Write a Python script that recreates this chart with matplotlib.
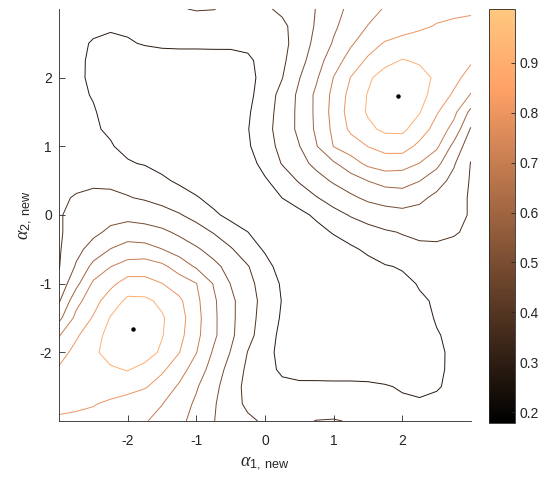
import numpy as np
import matplotlib
matplotlib.use("Agg")
import matplotlib.pyplot as plt
from matplotlib.colors import Normalize
from matplotlib.cm import ScalarMappable

# ---- data -------------------------------------------------------------
alpha1 = [-3.0, -2.75, -2.5, -2.25, -2.0, -1.75, -1.5, -1.25, -1.0, -0.75, -0.5, -0.25,
          0.0, 0.25, 0.5, 0.75, 1.0, 1.25, 1.5, 1.75, 2.0, 2.25, 2.5, 2.75, 3.0]
alpha2 = [3.0, 2.75, 2.5, 2.25, 2.0, 1.75, 1.5, 1.25, 1.0, 0.75, 0.5, 0.25,
          0.0, -0.25, -0.5, -0.75, -1.0, -1.25, -1.5, -1.75, -2.0, -2.25, -2.5, -2.75, -3.0]

# one row per alpha2 value (top to bottom), one column per alpha1 value
z_rows = [
    [0.320, 0.315, 0.310, 0.315, 0.325, 0.340, 0.355, 0.380, 0.390, 0.387, 0.372, 0.365, 0.370, 0.405, 0.448, 0.492, 0.559, 0.617, 0.663, 0.705, 0.730, 0.750, 0.765, 0.775, 0.785],
    [0.310, 0.300, 0.290, 0.290, 0.300, 0.315, 0.330, 0.340, 0.345, 0.345, 0.340, 0.340, 0.350, 0.363, 0.431, 0.500, 0.577, 0.640, 0.700, 0.725, 0.752, 0.780, 0.807, 0.820, 0.825],
    [0.300, 0.290, 0.279, 0.268, 0.272, 0.290, 0.305, 0.310, 0.310, 0.310, 0.305, 0.305, 0.320, 0.355, 0.433, 0.518, 0.603, 0.684, 0.753, 0.810, 0.840, 0.855, 0.865, 0.862, 0.855],
    [0.300, 0.290, 0.275, 0.250, 0.235, 0.230, 0.225, 0.225, 0.225, 0.230, 0.240, 0.265, 0.316, 0.366, 0.450, 0.550, 0.649, 0.740, 0.817, 0.870, 0.910, 0.890, 0.875, 0.845, 0.812],
    [0.305, 0.300, 0.265, 0.240, 0.220, 0.205, 0.200, 0.195, 0.195, 0.200, 0.215, 0.250, 0.318, 0.382, 0.485, 0.581, 0.700, 0.803, 0.885, 0.955, 0.985, 0.945, 0.884, 0.830, 0.760],
    [0.305, 0.295, 0.278, 0.250, 0.225, 0.205, 0.195, 0.188, 0.185, 0.190, 0.205, 0.255, 0.334, 0.415, 0.510, 0.614, 0.723, 0.832, 0.910, 0.975, 1.000, 0.940, 0.861, 0.786, 0.690],
    [0.310, 0.300, 0.287, 0.260, 0.230, 0.210, 0.195, 0.185, 0.180, 0.180, 0.190, 0.270, 0.344, 0.423, 0.513, 0.614, 0.731, 0.843, 0.915, 0.970, 0.985, 0.910, 0.809, 0.725, 0.565],
    [0.305, 0.300, 0.290, 0.272, 0.245, 0.220, 0.200, 0.190, 0.180, 0.180, 0.195, 0.278, 0.352, 0.427, 0.512, 0.610, 0.720, 0.820, 0.882, 0.925, 0.925, 0.852, 0.762, 0.663, 0.478],
    [0.300, 0.303, 0.300, 0.288, 0.260, 0.235, 0.215, 0.200, 0.190, 0.185, 0.195, 0.270, 0.341, 0.414, 0.486, 0.588, 0.700, 0.750, 0.802, 0.835, 0.845, 0.775, 0.715, 0.564, 0.420],
    [0.320, 0.325, 0.320, 0.300, 0.290, 0.275, 0.250, 0.230, 0.210, 0.195, 0.190, 0.240, 0.318, 0.390, 0.453, 0.517, 0.580, 0.652, 0.720, 0.750, 0.735, 0.695, 0.622, 0.500, 0.380],
    [0.345, 0.355, 0.365, 0.365, 0.355, 0.340, 0.300, 0.265, 0.235, 0.210, 0.195, 0.210, 0.270, 0.333, 0.394, 0.450, 0.503, 0.548, 0.595, 0.630, 0.640, 0.596, 0.530, 0.459, 0.375],
    [0.365, 0.395, 0.410, 0.405, 0.390, 0.375, 0.355, 0.330, 0.290, 0.250, 0.215, 0.195, 0.220, 0.283, 0.330, 0.380, 0.424, 0.470, 0.510, 0.530, 0.535, 0.510, 0.466, 0.420, 0.375],
    [0.375, 0.420, 0.440, 0.455, 0.460, 0.445, 0.420, 0.392, 0.355, 0.300, 0.255, 0.210, 0.190, 0.210, 0.255, 0.300, 0.355, 0.392, 0.420, 0.445, 0.460, 0.455, 0.440, 0.420, 0.375],
    [0.375, 0.420, 0.466, 0.510, 0.535, 0.530, 0.510, 0.470, 0.424, 0.380, 0.330, 0.283, 0.220, 0.195, 0.215, 0.250, 0.290, 0.330, 0.355, 0.375, 0.390, 0.405, 0.410, 0.395, 0.365],
    [0.375, 0.459, 0.530, 0.596, 0.640, 0.630, 0.595, 0.548, 0.503, 0.450, 0.394, 0.333, 0.270, 0.210, 0.195, 0.210, 0.235, 0.265, 0.300, 0.340, 0.355, 0.365, 0.365, 0.355, 0.345],
    [0.380, 0.500, 0.622, 0.695, 0.735, 0.750, 0.720, 0.652, 0.580, 0.517, 0.453, 0.390, 0.318, 0.240, 0.190, 0.195, 0.210, 0.230, 0.250, 0.275, 0.290, 0.300, 0.320, 0.325, 0.320],
    [0.420, 0.564, 0.715, 0.775, 0.845, 0.835, 0.802, 0.750, 0.700, 0.588, 0.486, 0.414, 0.341, 0.270, 0.195, 0.185, 0.190, 0.200, 0.215, 0.235, 0.260, 0.288, 0.300, 0.303, 0.300],
    [0.478, 0.663, 0.762, 0.852, 0.925, 0.925, 0.882, 0.820, 0.720, 0.610, 0.512, 0.427, 0.352, 0.278, 0.195, 0.180, 0.180, 0.190, 0.200, 0.220, 0.245, 0.272, 0.290, 0.300, 0.305],
    [0.565, 0.725, 0.809, 0.910, 0.985, 0.970, 0.915, 0.843, 0.731, 0.614, 0.513, 0.423, 0.344, 0.270, 0.190, 0.180, 0.180, 0.185, 0.195, 0.210, 0.230, 0.260, 0.287, 0.300, 0.310],
    [0.690, 0.786, 0.861, 0.940, 1.000, 0.975, 0.910, 0.832, 0.723, 0.614, 0.510, 0.415, 0.334, 0.255, 0.205, 0.190, 0.185, 0.188, 0.195, 0.205, 0.225, 0.250, 0.278, 0.295, 0.305],
    [0.760, 0.830, 0.884, 0.945, 0.985, 0.955, 0.885, 0.803, 0.700, 0.581, 0.485, 0.382, 0.318, 0.250, 0.215, 0.200, 0.195, 0.195, 0.200, 0.205, 0.220, 0.240, 0.265, 0.300, 0.305],
    [0.812, 0.845, 0.875, 0.890, 0.910, 0.870, 0.817, 0.740, 0.649, 0.550, 0.450, 0.366, 0.316, 0.265, 0.240, 0.230, 0.225, 0.225, 0.225, 0.230, 0.235, 0.250, 0.275, 0.290, 0.300],
    [0.855, 0.862, 0.865, 0.855, 0.840, 0.810, 0.753, 0.684, 0.603, 0.518, 0.433, 0.355, 0.320, 0.305, 0.305, 0.310, 0.310, 0.310, 0.305, 0.290, 0.272, 0.268, 0.279, 0.290, 0.300],
    [0.825, 0.820, 0.807, 0.780, 0.752, 0.725, 0.700, 0.640, 0.577, 0.500, 0.431, 0.363, 0.350, 0.340, 0.340, 0.345, 0.345, 0.340, 0.330, 0.315, 0.300, 0.290, 0.290, 0.300, 0.310],
    [0.785, 0.775, 0.765, 0.750, 0.730, 0.705, 0.663, 0.617, 0.559, 0.492, 0.448, 0.405, 0.370, 0.365, 0.372, 0.387, 0.390, 0.380, 0.355, 0.340, 0.325, 0.315, 0.310, 0.315, 0.320],
]

contour_levels = [0.282, 0.385, 0.489, 0.593, 0.697, 0.800, 0.904]
z_min, z_max = 0.178, 1.008

peak_a1 = [1.94, -1.92]
peak_a2 = [1.74, -1.66]

axis_ticks = [-2, -1, 0, 1, 2]
cbar_ticks = [0.2, 0.3, 0.4, 0.5, 0.6, 0.7, 0.8, 0.9]

# ---- styling ------------------------------------------------------------
plt.rcParams["font.family"] = ["Liberation Sans", "DejaVu Sans"]
plt.rcParams["axes.unicode_minus"] = False
plt.rcParams["mathtext.fontset"] = "custom"
plt.rcParams["mathtext.rm"] = "Liberation Sans"
plt.rcParams["mathtext.it"] = "Liberation Serif:italic"

axis_col = "#262626"

fig = plt.figure(figsize=(5.53, 4.83), dpi=100)
ax = fig.add_axes([0.1067, 0.1284, 0.745, 0.853])

Z = np.array(z_rows)[::-1]
y_sorted = alpha2[::-1]
norm = Normalize(vmin=z_min, vmax=z_max)

ax.contour(alpha1, y_sorted, Z, levels=contour_levels, cmap="copper",
           norm=norm, linewidths=0.7)
ax.plot(peak_a1, peak_a2, linestyle="none", marker="o", markersize=2.2,
        color="black")

ax.set_xlim(-3, 3)
ax.set_ylim(-3, 3)
ax.set_xticks(axis_ticks)
ax.set_yticks(axis_ticks)
for s in ("top", "right"):
    ax.spines[s].set_visible(False)
for s in ("left", "bottom"):
    ax.spines[s].set_color(axis_col)
    ax.spines[s].set_linewidth(0.6)
ax.tick_params(direction="in", length=4, width=0.6, colors=axis_col,
               labelsize=10)
ax.tick_params(axis="x", pad=9.5)
ax.tick_params(axis="y", pad=5)

ax.set_xlabel(r"$\alpha_{\rm 1,\ new}$", fontsize=13, color=axis_col, labelpad=5)
ax.set_ylabel(r"$\alpha_{\rm 2,\ new}$", fontsize=13, color=axis_col, labelpad=4)

cax = fig.add_axes([0.8843, 0.1242, 0.047, 0.857])
sm = ScalarMappable(norm=norm, cmap="copper")
cb = fig.colorbar(sm, cax=cax, ticks=cbar_ticks)
cb.outline.set_edgecolor(axis_col)
cb.outline.set_linewidth(0.6)
cax.tick_params(direction="in", length=3, width=0.6, colors=axis_col,
                labelsize=10, pad=3)
cax.set_yticklabels([f"{t:.1f}" for t in cbar_ticks])

fig.savefig("out.png", dpi=100)
